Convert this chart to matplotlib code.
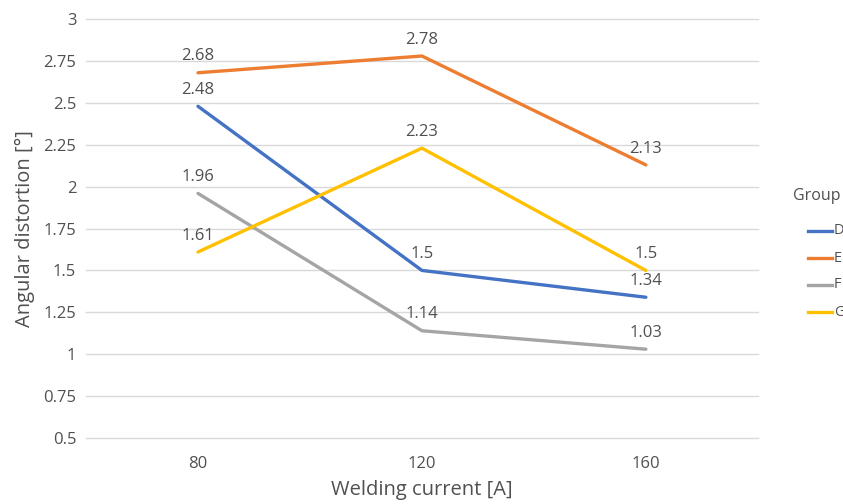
import matplotlib.pyplot as plt
from matplotlib.lines import Line2D

plt.rcParams['font.family'] = ['Open Sans', 'DejaVu Sans']

currents = ['80', '120', '160']
groups = ['D', 'E', 'F', 'G']
D = [2.48, 1.5, 1.34]
E = [2.68, 2.78, 2.13]
F = [1.96, 1.14, 1.03]
G = [1.61, 2.23, 1.5]
colors = ['#4472C4', '#ED7D31', '#A5A5A5', '#FFC000']
txt = '#505050'

fig = plt.figure(figsize=(8.43, 5.04), dpi=100)
ax = fig.add_axes([0.102, 0.131, 0.797, 0.831])

x = list(range(len(currents)))
for name, vals, c in zip(groups, [D, E, F, G], colors):
    ax.plot(x, vals, color=c, lw=2.4, solid_capstyle='round')
    for xi, v in zip(x, vals):
        ax.annotate(f'{v:g}', (xi, v), xytext=(0, 6), textcoords='offset points',
                    ha='center', va='bottom', fontsize=12, color=txt)

ax.set_xlim(-0.5, 2.5)
ax.set_ylim(0.5, 3)
ax.set_yticks([0.5 + 0.25 * i for i in range(11)])
ax.set_yticklabels([f'{0.5 + 0.25 * i:g}' for i in range(11)])
ax.set_xticks(x)
ax.set_xticklabels(currents)
ax.grid(axis='y', color='#D9D9D9', lw=1)
for gl in ax.get_ygridlines():
    gl.set_clip_on(False)
ax.set_axisbelow(True)
for s in ax.spines.values():
    s.set_visible(False)
ax.tick_params(length=0, labelsize=12, colors=txt, pad=7)
ax.tick_params(axis='x', pad=13)
ax.set_xlabel('Welding current [A]', fontsize=14.5, color=txt, labelpad=6)
ax.set_ylabel('Angular distortion [°]', fontsize=14.5, color=txt, labelpad=6)

# legend on the right, partly cut off
fig.text(793 / 843, 1 - 196 / 504, 'Group', fontsize=11.5, color=txt, va='center', ha='left')
for i, (name, c) in enumerate(zip(groups, colors)):
    yy = 1 - (231 + 27 * i) / 504
    fig.add_artist(Line2D([808 / 843, 832 / 843], [yy, yy], color=c, lw=2.4))
    fig.text(834 / 843, yy, name, fontsize=10.5, color=txt, va='center', ha='left')

fig.savefig('out.png', dpi=100)
